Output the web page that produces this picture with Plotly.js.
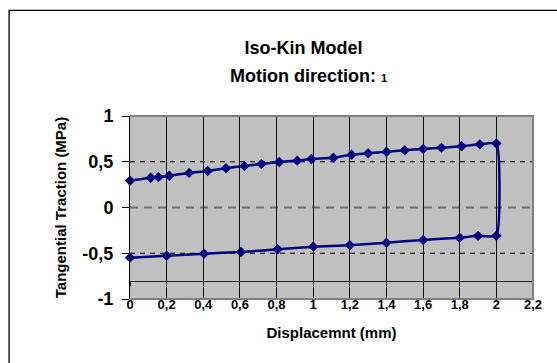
<!DOCTYPE html>
<html>
<head>
<meta charset="utf-8">
<script src="https://cdn.plot.ly/plotly-3.0.1.min.js"></script>
<style>html,body{margin:0;padding:0;background:#fff;}#chart{width:557px;height:363px;}</style>
</head>
<body>
<div id="chart"></div>
<script>
// Upper branch (forward motion)
const upperX = [0, 0.113, 0.155, 0.214, 0.323, 0.424, 0.524, 0.624, 0.717, 0.815, 0.913, 0.99, 1.11, 1.21, 1.30, 1.40, 1.50, 1.60, 1.70, 1.81, 1.91, 2.0];
const upperY = [0.293, 0.325, 0.333, 0.347, 0.378, 0.399, 0.430, 0.454, 0.475, 0.497, 0.512, 0.53, 0.544, 0.577, 0.592, 0.61, 0.625, 0.64, 0.654, 0.669, 0.69, 0.70];
// Lower branch (return motion)
const lowerX = [2.0, 1.90, 1.80, 1.60, 1.40, 1.20, 1.0, 0.806, 0.606, 0.404, 0.2, 0];
const lowerY = [-0.308, -0.31, -0.33, -0.355, -0.385, -0.413, -0.428, -0.457, -0.486, -0.505, -0.527, -0.548];

const yTickVals = [-1, -0.5, 0, 0.5, 1];
const yTickText = ['-1', '-0,5', '0', '0,5', '1'];
const dashedGridVals = [-0.5, 0.5];
const zeroGridVal = 0;
const xAxisCross = -0.8;

const FONT = 'Liberation Sans, Arial, sans-serif';
const navy = '#000080';

const trace = {
  x: upperX.concat(lowerX),
  y: upperY.concat(lowerY),
  type: 'scatter',
  mode: 'lines+markers',
  line: {color: navy, width: 2.5, shape: 'spline', smoothing: 0.45},
  marker: {symbol: 'diamond', size: 8, color: navy},
  hoverinfo: 'skip',
  showlegend: false,
  cliponaxis: false
};
// empty trace so the labelled bottom axis is drawn
const axisHolder = {x: [], y: [], xaxis: 'x2', yaxis: 'y', type: 'scatter', mode: 'markers', showlegend: false, hoverinfo: 'skip'};

const shapes = [];
dashedGridVals.forEach(v => shapes.push({
  type: 'line', xref: 'paper', yref: 'y', x0: 0, x1: 1, y0: v, y1: v,
  line: {color: '#000000', width: 1, dash: '5px,5px'}, layer: 'below'
}));
shapes.push({
  type: 'line', xref: 'paper', yref: 'y', x0: 0, x1: 1, y0: zeroGridVal, y1: zeroGridVal,
  line: {color: '#707070', width: 2, dash: '8px,6px'}, layer: 'below'
});
// plot area border (top, right, bottom) in grey
shapes.push({
  type: 'path', xref: 'paper', yref: 'paper', path: 'M0,1 L1,1 L1,0 L0,0',
  line: {color: '#808080', width: 2}, layer: 'above'
});
// outer chart-area frame
shapes.push({
  type: 'rect', xref: 'paper', yref: 'paper', x0: -0.300, x1: 1.2, y0: -0.5, y1: 1.577,
  line: {color: '#000000', width: 1.3}, fillcolor: 'rgba(0,0,0,0)', layer: 'above'
});

const layout = {
  width: 557, height: 363,
  margin: {l: 130, r: 24, t: 116, b: 64, pad: 0},
  paper_bgcolor: '#ffffff',
  plot_bgcolor: '#c0c0c0',
  separators: ',.',
  font: {family: FONT, color: '#000000'},
  title: {
    text: 'Iso-Kin Model',
    font: {family: FONT, size: 18, weight: 'bold', color: '#000'},
    xref: 'container', x: 0.545, xanchor: 'center',
    yref: 'container', y: 1 - 48 / 363, yanchor: 'middle'
  },
  annotations: [{
    text: 'Motion direction: <span style="font-size:11px">1</span>',
    xref: 'paper', yref: 'paper', x: (308 - 130) / 403, y: (299 - 76) / 183,
    xanchor: 'center', yanchor: 'middle', showarrow: false,
    font: {family: FONT, size: 18, weight: 'bold', color: '#000'}
  }],
  xaxis: {
    range: [0, 2.2], dtick: 0.2, tick0: 0,
    anchor: 'free', position: (xAxisCross + 1) / 2,
    showline: true, linecolor: '#1a1a1a', linewidth: 1,
    ticks: 'outside', ticklen: 4, tickcolor: '#000', tickwidth: 1,
    showticklabels: false,
    showgrid: true, gridcolor: '#111', gridwidth: 1,
    zeroline: false, fixedrange: true
  },
  xaxis2: {
    overlaying: 'x', anchor: 'y', side: 'bottom',
    range: [0, 2.2], dtick: 0.2, tick0: 0,
    showline: false, ticks: '', showgrid: false, zeroline: false,
    ticklabelstandoff: -4,
    tickfont: {family: FONT, size: 13, weight: 'bold', color: '#000'},
    title: {text: 'Displacemnt (mm)', font: {family: FONT, size: 15, weight: 'bold', color: '#000'}, standoff: 16},
    fixedrange: true
  },
  yaxis: {
    range: [-1, 1], tickvals: yTickVals, ticktext: yTickText,
    showline: true, linecolor: '#000', linewidth: 1,
    ticks: 'outside', ticklen: 7, tickcolor: '#000', tickwidth: 1,
    ticklabelstandoff: 5,
    tickfont: {family: FONT, size: 18, weight: 'bold', color: '#000'},
    showgrid: false, zeroline: false,
    title: {text: 'Tangential Traction (MPa)', font: {family: FONT, size: 15, weight: 'bold', color: '#000'}, standoff: 12},
    fixedrange: true
  },
  shapes: shapes
};

Plotly.newPlot('chart', [trace, axisHolder], layout, {staticPlot: true, displayModeBar: false});
</script>
</body>
</html>
